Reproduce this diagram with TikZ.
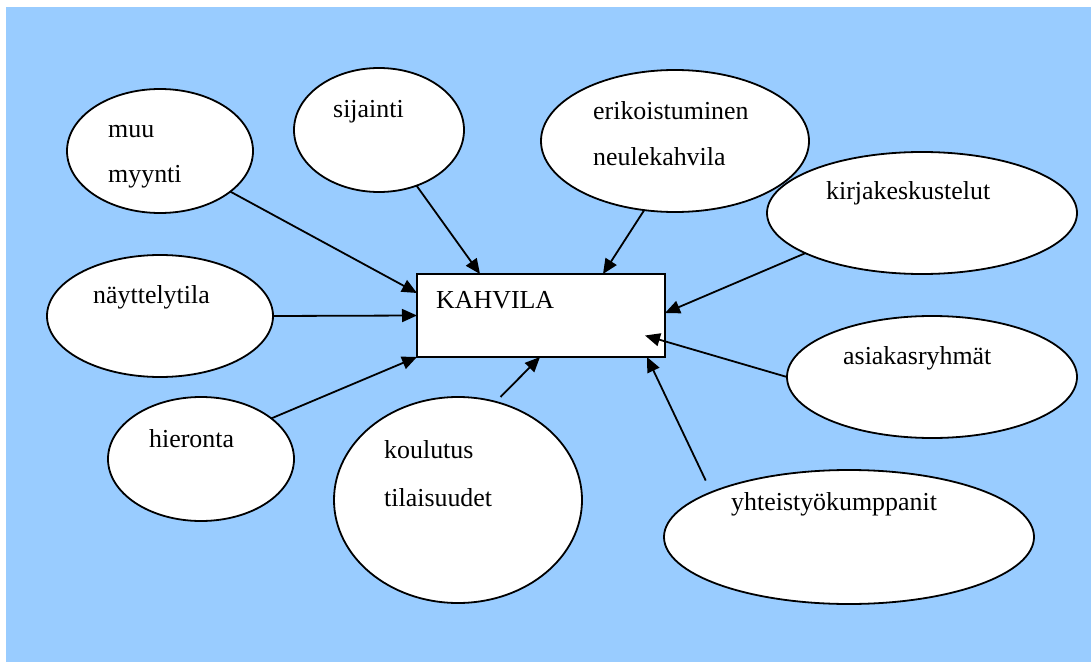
\documentclass[tikz,border=0pt]{standalone}
\usepackage{fontspec}
\setmainfont{Liberation Serif}
\usetikzlibrary{shapes.geometric,arrows.meta}
\definecolor{skyfill}{HTML}{99CCFF}
\begin{document}
\begin{tikzpicture}[x=1bp,y=-1bp,
  bubble/.style={draw=black,fill=white,ellipse,line width=1.8bp,inner sep=0pt,outer sep=0pt},
  hub/.style={draw=black,fill=white,rectangle,line width=1.8bp,inner sep=0pt,outer sep=0pt,
    minimum width=248bp,minimum height=83bp},
  word/.style={anchor=base west,inner sep=0pt,font=\fontsize{26}{31}\selectfont},
  link/.style={line width=1.8bp,-{Triangle[length=15bp,width=13bp]}}]
\useasboundingbox (0,0) rectangle (1091,662);
% background panel
\fill[skyfill] (6,7) rectangle (1091,662);

% surrounding topics
\node[bubble,minimum width=186bp,minimum height=124bp] (muu) at (160,151) {};
\node[bubble,minimum width=170bp,minimum height=124bp] (sij) at (379,130) {};
\node[bubble,minimum width=268bp,minimum height=142bp] (eri) at (675,141) {};
\node[bubble,minimum width=310bp,minimum height=122bp] (kir) at (922,213) {};
\node[bubble,minimum width=226bp,minimum height=122bp] (nay) at (160,316) {};
\node[bubble,minimum width=290bp,minimum height=122bp] (asi) at (932,377) {};
\node[bubble,minimum width=186bp,minimum height=124bp] (hie) at (201,459) {};
\node[bubble,minimum width=248bp,minimum height=206bp] (kou) at (458,500) {};
\node[bubble,minimum width=370bp,minimum height=134bp] (yht) at (849,537) {};
% central box
\node[hub] (kahvila) at (541,315.5) {};

% texts
\node[word] (t-muu1) at (108,138) {muu};
\node[word] (t-muu2) at (108,183) {myynti};
\node[word] (t-sij) at (333,118) {sijainti};
\node[word] (t-eri1) at (593,120) {erikoistuminen};
\node[word] (t-eri2) at (593,166) {neulekahvila};
\node[word] (t-kir) at (826,200) {kirjakeskustelut};
\node[word] (t-nay) at (93,303) {näyttelytila};
\node[word] (t-asi) at (843,364) {asiakasryhmät};
\node[word] (t-hie) at (149,447) {hieronta};
\node[word] (t-kou1) at (384,458) {koulutus};
\node[word] (t-kou2) at (384,506) {tilaisuudet};
\node[word] (t-yht) at (731,510) {yhteistyökumppanit};
\node[word] (t-kah) at (436,308) {KAHVILA};

% arrows into the box
\draw[link] (muu.-30) -- ([yshift=-19bp]kahvila.north west);
\draw[link] (sij.-56) -- ([xshift=63bp]kahvila.north west);
\draw[link] (eri.-114) -- ([xshift=186bp]kahvila.north west);
\draw[link] (kir.-161) -- ([yshift=-39bp]kahvila.north east);
\draw[link] (nay.east) -- (kahvila.west);
\draw[link] (asi.west) -- ([xshift=-20bp,yshift=-20bp]kahvila.east);
\draw[link] (hie.30) -- (kahvila.south west);
\draw[link,shorten <=7bp] (kou.69) -- ([xshift=123bp]kahvila.south west);
\draw[link,shorten <=13bp] (yht.162) -- ([xshift=-18bp]kahvila.south east);
\end{tikzpicture}
\end{document}
